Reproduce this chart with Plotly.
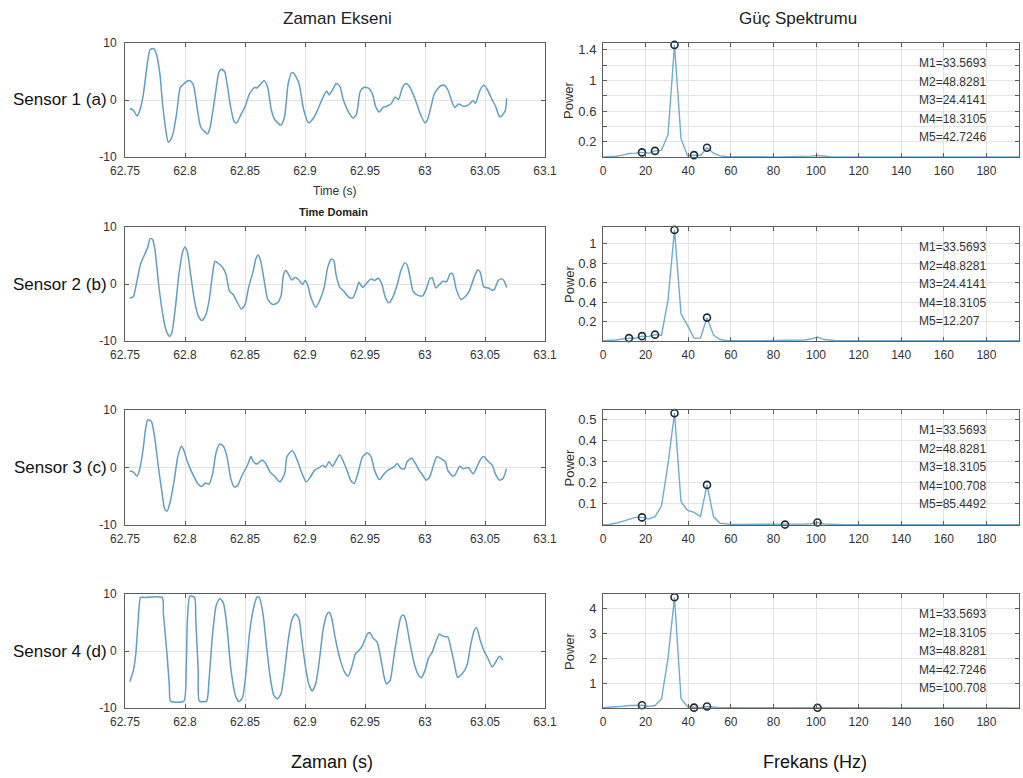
import plotly.graph_objects as go

# ---------------- DATA ----------------
# Time-domain signals (time in s, amplitude)
t1 = [62.754, 62.757, 62.760, 62.762, 62.765, 62.769, 62.771, 62.774, 62.776, 62.779, 62.781, 62.784, 62.786, 62.788,
      62.790, 62.793, 62.796, 62.798, 62.801, 62.804, 62.807, 62.810, 62.813, 62.816, 62.819, 62.821, 62.825, 62.828,
      62.830, 62.833, 62.835, 62.838, 62.841, 62.843, 62.847, 62.850, 62.854, 62.858, 62.860, 62.863, 62.866, 62.869,
      62.872, 62.875, 62.880, 62.883, 62.886, 62.889, 62.891, 62.895, 62.899, 62.903, 62.907, 62.911, 62.914, 62.918,
      62.920, 62.923, 62.926, 62.929, 62.932, 62.937, 62.940, 62.943, 62.946, 62.949, 62.953, 62.956, 62.959, 62.962,
      62.965, 62.968, 62.972, 62.975, 62.978, 62.981, 62.984, 62.987, 62.992, 62.996, 63.000, 63.002, 63.005, 63.008,
      63.013, 63.016, 63.019, 63.023, 63.025, 63.028, 63.032, 63.036, 63.040, 63.042, 63.046, 63.049, 63.052, 63.056,
      63.059, 63.062, 63.064, 63.067, 63.068]
v1 = [-1.5, -1.8, -2.8, -2.0, 0.6, 7.0, 8.9, 9.0, 8.2, 4.7, 0.0, -5.3, -7.4, -7.0,
      -5.9, -2.4, 2.2, 2.6, 3.2, 3.4, 2.6, -1.2, -4.7, -5.5, -5.9, -4.7, 0.6, 4.7,
      5.4, 5.0, 2.9, -1.2, -3.8, -4.0, -2.4, -1.2, 1.2, 2.2, 2.1, 2.8, 3.4, 2.1,
      -1.8, -3.5, -4.4, -2.9, 2.9, 4.8, 4.6, 2.9, -1.8, -4.0, -3.2, -1.5, 0.0, 1.6,
      0.9, 1.8, 2.9, 2.4, 0.0, -2.4, -3.2, -2.4, 1.5, 2.2, 2.1, 1.2, -1.2, -2.1,
      -1.3, -1.1, -0.6, 0.5, 0.1, 2.1, 2.9, 2.4, 0.0, -2.4, -4.0, -3.5, -1.2, 1.2,
      2.5, 2.6, 1.8, -0.6, -1.3, -0.7, -1.1, -0.9, -0.1, -0.6, 1.8, 2.6, 1.8, 0.0,
      -1.2, -2.9, -2.8, -1.8, 0.3]

t2 = [62.754, 62.757, 62.760, 62.763, 62.766, 62.769, 62.771, 62.773, 62.775, 62.778, 62.781, 62.784, 62.787, 62.789,
      62.792, 62.795, 62.798, 62.800, 62.802, 62.805, 62.808, 62.811, 62.814, 62.817, 62.820, 62.823, 62.825, 62.828,
      62.831, 62.834, 62.837, 62.840, 62.843, 62.847, 62.850, 62.853, 62.857, 62.859, 62.861, 62.863, 62.866, 62.869,
      62.873, 62.877, 62.880, 62.882, 62.884, 62.886, 62.889, 62.892, 62.895, 62.898, 62.900, 62.902, 62.905, 62.909,
      62.912, 62.916, 62.919, 62.922, 62.924, 62.926, 62.929, 62.932, 62.937, 62.940, 62.943, 62.945, 62.948, 62.952,
      62.955, 62.958, 62.961, 62.964, 62.967, 62.970, 62.973, 62.977, 62.980, 62.983, 62.985, 62.987, 62.990, 62.994,
      62.998, 63.001, 63.004, 63.006, 63.009, 63.012, 63.015, 63.018, 63.021, 63.023, 63.026, 63.030, 63.034, 63.037,
      63.041, 63.044, 63.046, 63.049, 63.053, 63.056, 63.058, 63.061, 63.064, 63.066, 63.068]
v2 = [-2.5, -2.2, 0.6, 3.5, 5.0, 6.5, 8.0, 7.8, 5.9, 0.0, -4.7, -8.0, -9.2, -8.6,
      -4.1, 1.8, 5.6, 6.5, 5.6, 1.2, -3.0, -5.6, -6.4, -5.6, -3.0, 1.8, 4.0, 3.6,
      3.0, 1.8, -1.2, -1.8, -3.0, -4.4, -3.6, -0.6, 2.4, 4.4, 5.1, 4.1, 0.6, -2.7,
      -3.6, -3.3, -2.1, 1.5, 2.4, 1.8, 0.7, 1.2, 0.7, -0.1, 0.6, 0.0, -2.4, -4.1,
      -3.0, -0.6, 3.0, 4.4, 4.1, 1.5, -0.6, -1.2, -2.4, -2.4, -0.9, 0.3, -0.6, 0.3,
      0.9, 0.6, 1.0, 0.0, -2.4, -3.3, -2.4, 0.0, 2.4, 3.7, 3.4, 1.8, -1.2, -2.0,
      -2.1, -0.9, 0.9, 1.1, -0.7, -0.1, 0.5, 0.4, 1.8, 1.8, -0.9, -2.7, -2.1, -1.2,
      1.2, 2.5, 2.1, -0.5, -0.7, -1.1, -0.9, 0.6, 0.9, 0.5, -0.6]

t3 = [62.754, 62.757, 62.760, 62.762, 62.765, 62.767, 62.769, 62.772, 62.775, 62.778, 62.781, 62.783, 62.785, 62.788,
      62.791, 62.794, 62.797, 62.799, 62.802, 62.805, 62.808, 62.811, 62.814, 62.817, 62.820, 62.823, 62.826, 62.829,
      62.832, 62.835, 62.838, 62.841, 62.844, 62.847, 62.852, 62.855, 62.857, 62.860, 62.864, 62.867, 62.871, 62.875,
      62.879, 62.883, 62.885, 62.889, 62.891, 62.894, 62.898, 62.901, 62.904, 62.908, 62.912, 62.915, 62.917, 62.920,
      62.923, 62.926, 62.929, 62.932, 62.935, 62.938, 62.941, 62.944, 62.948, 62.952, 62.955, 62.958, 62.962, 62.966,
      62.969, 62.974, 62.977, 62.980, 62.983, 62.985, 62.989, 62.992, 62.995, 62.998, 63.001, 63.004, 63.007, 63.010,
      63.013, 63.017, 63.019, 63.023, 63.025, 63.029, 63.032, 63.036, 63.040, 63.042, 63.046, 63.049, 63.052, 63.056,
      63.059, 63.062, 63.065, 63.068]
v3 = [-0.6, -0.8, -1.5, -0.5, 3.0, 6.5, 8.3, 8.0, 4.8, -0.2, -4.6, -7.2, -7.6, -5.7,
      -2.2, 1.9, 3.7, 3.0, 1.0, -0.5, -1.8, -2.9, -3.3, -2.7, -2.9, -1.1, 2.7, 4.1,
      3.7, 1.9, -1.8, -3.4, -3.1, -1.6, 0.4, 1.9, 1.0, 0.6, 1.3, 0.8, -0.8, -1.6,
      -2.5, -1.1, 1.9, 2.9, 2.5, 1.0, -1.3, -2.5, -1.8, -0.5, 0.0, 0.4, 0.0, 1.0,
      0.2, 1.3, 2.2, 1.0, -0.5, -2.2, -2.8, -1.1, 1.9, 2.5, 1.9, -0.5, -2.1, -1.1,
      -0.5, 0.1, 0.7, -0.2, -0.2, 1.0, 1.6, 0.7, -0.5, -1.3, -2.2, -1.6, 0.4, 1.9,
      1.6, 1.0, -0.5, -1.5, -1.3, 0.2, -0.2, 0.0, -1.1, -0.5, 1.3, 1.9, 1.2, 0.4,
      -1.3, -2.2, -1.9, -0.2]

t4 = [62.754, 62.757, 62.759, 62.761, 62.763, 62.766, 62.781, 62.782, 62.785, 62.787, 62.788, 62.799, 62.801, 62.802,
      62.804, 62.808, 62.809, 62.811, 62.812, 62.818, 62.820, 62.823, 62.826, 62.829, 62.832, 62.835, 62.838, 62.842,
      62.845, 62.848, 62.851, 62.854, 62.858, 62.860, 62.862, 62.865, 62.868, 62.871, 62.874, 62.877, 62.880, 62.883,
      62.886, 62.889, 62.892, 62.895, 62.897, 62.900, 62.903, 62.906, 62.909, 62.912, 62.915, 62.918, 62.920, 62.922,
      62.925, 62.929, 62.933, 62.936, 62.939, 62.942, 62.945, 62.948, 62.952, 62.954, 62.957, 62.960, 62.963, 62.966,
      62.968, 62.971, 62.974, 62.977, 62.980, 62.982, 62.984, 62.987, 62.991, 62.994, 62.997, 63.000, 63.003, 63.006,
      63.009, 63.012, 63.014, 63.017, 63.019, 63.022, 63.025, 63.027, 63.031, 63.035, 63.038, 63.041, 63.043, 63.046,
      63.049, 63.052, 63.056, 63.059, 63.062, 63.065]
v4 = [-5.4, -3.4, -0.5, 5.4, 9.4, 9.4, 9.4, 6.5, -0.5, -6.3, -8.8, -8.8, -3.4, 5.4,
      9.6, 9.4, 5.4, -3.4, -8.8, -8.8, -5.1, 3.0, 8.0, 9.2, 8.4, 4.2, -2.8, -7.8,
      -8.9, -8.1, -3.4, 3.6, 8.3, 9.5, 9.4, 6.5, 0.7, -4.6, -7.8, -8.4, -7.5, -3.4,
      1.9, 5.4, 6.5, 5.7, 2.5, -2.2, -5.7, -7.0, -5.7, -1.6, 3.6, 6.3, 6.8, 6.0,
      2.5, -1.3, -3.7, -4.4, -2.8, -0.5, 0.1, 1.0, 3.0, 3.2, 2.2, 1.6, -1.1, -4.6,
      -5.8, -5.1, -1.1, 3.0, 6.0, 6.3, 5.4, 1.9, -2.2, -4.0, -4.7, -3.4, -1.2, -0.2,
      1.6, 3.0, 2.7, 2.5, 2.5, 0.1, -2.8, -4.6, -4.0, -2.5, 1.0, 3.6, 4.1, 1.9,
      0.1, -1.1, -2.8, -1.9, -0.9, -1.6]

# Frequency bins (Hz) of the power spectra
freq = [0.0, 3.0518, 6.1035, 9.1553, 12.207, 15.2588, 18.3105, 21.3623, 24.4141, 27.4658, 30.5176, 33.5693,
        36.6211, 39.6729, 42.7246, 45.7764, 48.8281, 51.8799, 54.9316, 57.9834, 61.0352, 64.0869, 67.1387,
        70.1904, 73.2422, 76.2939, 79.3457, 82.3975, 85.4492, 88.501, 91.5527, 94.6045, 97.6563, 100.708,
        103.7598, 106.8115, 109.8633, 112.915, 115.9668, 119.0186, 122.0703, 125.1221, 128.1738, 131.2256,
        134.2773, 137.3291, 140.3809, 143.4326, 146.4844, 149.5361, 152.5879, 155.6396, 158.6914, 161.7432,
        164.7949, 167.8467, 170.8984, 173.9502, 177.002, 180.0537, 183.1055, 186.1572, 189.209, 192.2607, 195.3125]

p1 = [0.0, 0.005, 0.01, 0.025, 0.045, 0.05, 0.06, 0.05, 0.08, 0.09, 0.29, 1.465,
      0.24, 0.015, 0.025, 0.02, 0.12, 0.05, 0.015, 0.006, 0.004, 0.003, 0.003,
      0.002, 0.002, 0.002, 0.002, 0.002, 0.003, 0.004, 0.006, 0.008, 0.012, 0.02,
      0.01, 0.004, 0.002, 0.002, 0.002, 0.002, 0.002, 0.002, 0.002, 0.002,
      0.002, 0.002, 0.002, 0.002, 0.002, 0.002, 0.002, 0.002, 0.002, 0.002,
      0.002, 0.002, 0.002, 0.002, 0.002, 0.002, 0.002, 0.002, 0.002, 0.002, 0.002]
p2 = [0.002, 0.005, 0.01, 0.02, 0.03, 0.028, 0.05, 0.045, 0.065, 0.06, 0.42, 1.14,
      0.28, 0.16, 0.03, 0.03, 0.24, 0.06, 0.015, 0.005, 0.003, 0.003, 0.003,
      0.003, 0.003, 0.003, 0.003, 0.003, 0.003, 0.004, 0.006, 0.01, 0.02, 0.04,
      0.015, 0.005, 0.002, 0.002, 0.002, 0.002, 0.002, 0.002, 0.002, 0.002,
      0.002, 0.002, 0.002, 0.002, 0.002, 0.002, 0.002, 0.002, 0.002, 0.002,
      0.002, 0.002, 0.002, 0.002, 0.002, 0.002, 0.002, 0.002, 0.002, 0.002, 0.002]
p3 = [0.002, 0.003, 0.008, 0.018, 0.028, 0.036, 0.036, 0.028, 0.04, 0.09, 0.29, 0.53,
      0.11, 0.07, 0.06, 0.04, 0.19, 0.04, 0.008, 0.004, 0.003, 0.003, 0.003,
      0.002, 0.002, 0.002, 0.002, 0.001, 0.002, 0.001, 0.003, 0.004, 0.006, 0.012,
      0.005, 0.003, 0.002, 0.002, 0.002, 0.002, 0.002, 0.002, 0.002, 0.002,
      0.002, 0.002, 0.002, 0.002, 0.002, 0.002, 0.002, 0.002, 0.002, 0.002,
      0.002, 0.002, 0.002, 0.002, 0.002, 0.002, 0.002, 0.002, 0.002, 0.002, 0.002]
p4 = [0.01, 0.02, 0.04, 0.07, 0.1, 0.1, 0.11, 0.06, 0.1, 0.36, 2.0, 4.47,
      0.38, 0.05, 0.015, 0.01, 0.06, 0.02, 0.01, 0.008, 0.008, 0.008, 0.008,
      0.007, 0.007, 0.007, 0.007, 0.007, 0.007, 0.007, 0.007, 0.007, 0.007, 0.01,
      0.006, 0.005, 0.005, 0.005, 0.005, 0.005, 0.005, 0.005, 0.005, 0.005,
      0.005, 0.005, 0.005, 0.005, 0.005, 0.005, 0.005, 0.005, 0.005, 0.005,
      0.005, 0.005, 0.005, 0.005, 0.005, 0.005, 0.005, 0.005, 0.005, 0.005, 0.005]

# Marked peaks (labels exactly as printed)
marks1 = ["33.5693", "48.8281", "24.4141", "18.3105", "42.7246"]
marks2 = ["33.5693", "48.8281", "24.4141", "18.3105", "12.207"]
marks3 = ["33.5693", "48.8281", "18.3105", "100.708", "85.4492"]
marks4 = ["33.5693", "18.3105", "48.8281", "42.7246", "100.708"]

sensor_labels = ["Sensor 1 (a)", "Sensor 2 (b)", "Sensor 3 (c)", "Sensor 4 (d)"]
time_ticks = [62.75, 62.8, 62.85, 62.9, 62.95, 63.0, 63.05, 63.1]
time_ticktext = ["62.75", "62.8", "62.85", "62.9", "62.95", "63", "63.05", "63.1"]
freq_ticks = [0, 20, 40, 60, 80, 100, 120, 140, 160, 180]
power_ticks = [
    ([0.2, 0.4, 0.6, 0.8, 1.0, 1.2, 1.4], ["0.2", "", "0.6", "", "1", "", "1.4"], [0, 1.49]),
    ([0.2, 0.4, 0.6, 0.8, 1.0], ["0.2", "0.4", "0.6", "0.8", "1"], [0, 1.17]),
    ([0.1, 0.2, 0.3, 0.4, 0.5], ["0.1", "0.2", "0.3", "0.4", "0.5"], [0, 0.545]),
    ([1, 2, 3, 4], ["1", "2", "3", "4"], [0, 4.6]),
]

# ---------------- FIGURE ----------------
W, H = 1023, 778
def fx(p):
    return p / W
def fy(p):
    return 1 - p / H

rows_px = [(43, 157), (227, 341), (410, 525), (594, 708)]
time_x_px = (125, 545)
spec_x_px = (603, 1019)

LINE_T = "#619fc2"
LINE_S = "#6eaed0"
FRAME = "#5c5c5c"
GRID = "#e4e4e4"
TICKFONT = dict(family="Liberation Sans, Arial, sans-serif", size=12, color="#333333")

times = [(t1, v1), (t2, v2), (t3, v3), (t4, v4)]
powers = [p1, p2, p3, p4]
marks = [marks1, marks2, marks3, marks4]

fig = go.Figure()
layout = dict(
    width=W, height=H, margin=dict(l=0, r=0, t=0, b=0, pad=0, autoexpand=False),
    paper_bgcolor="white", plot_bgcolor="white", showlegend=False,
    font=dict(family="Liberation Sans, Arial, sans-serif", color="#222222"),
)

def axis_common():
    return dict(showline=True, linecolor=FRAME, linewidth=1, mirror="ticks",
                ticks="inside", ticklen=4, tickcolor=FRAME, tickwidth=1,
                showgrid=True, gridcolor=GRID, gridwidth=1, zeroline=False,
                tickfont=TICKFONT, fixedrange=True, automargin=False)

annotations = []
for i in range(4):
    top, bot = rows_px[i]
    ydom = [fy(bot), fy(top)]
    ax_t = 2 * i + 1
    ax_s = 2 * i + 2
    xt = dict(axis_common(), domain=[fx(time_x_px[0]), fx(time_x_px[1])], range=[62.75, 63.1],
              tickvals=time_ticks, ticktext=time_ticktext, anchor=f"y{ax_t}", ticklabelstandoff=3)
    yt = dict(axis_common(), domain=ydom, range=[-10, 10], tickvals=[-10, 0, 10],
              ticktext=["-10", "0", "10"], anchor=f"x{ax_t}", ticklabelstandoff=5)
    tv, tt, rng = power_ticks[i]
    xs = dict(axis_common(), domain=[fx(spec_x_px[0]), fx(spec_x_px[1])], range=[0, 195.3],
              tickvals=freq_ticks, anchor=f"y{ax_s}", ticklabelstandoff=3)
    ys = dict(axis_common(), domain=ydom, range=rng, tickvals=tv, ticktext=tt, anchor=f"x{ax_s}",
              ticklabelstandoff=3, tickfont=dict(TICKFONT, size=13))
    layout[f"xaxis{ax_t}"] = xt
    layout[f"yaxis{ax_t}"] = yt
    layout[f"xaxis{ax_s}"] = xs
    layout[f"yaxis{ax_s}"] = ys

    t, v = times[i]
    fig.add_trace(go.Scatter(x=t, y=v, mode="lines", line=dict(color=LINE_T, width=1.5, shape="spline", smoothing=0.6),
                             xaxis=f"x{ax_t}", yaxis=f"y{ax_t}", hoverinfo="skip"))
    p = powers[i]
    fig.add_trace(go.Scatter(x=freq, y=p, mode="lines", line=dict(color=LINE_S, width=1.4),
                             xaxis=f"x{ax_s}", yaxis=f"y{ax_s}", hoverinfo="skip"))
    mf = [float(m) for m in marks[i]]
    mp = [p[min(range(len(freq)), key=lambda k: abs(freq[k] - f))] for f in mf]
    fig.add_trace(go.Scatter(x=mf, y=mp, mode="markers", cliponaxis=False,
                             marker=dict(symbol="circle-open", size=7, color="#1d2c38", line=dict(width=1.6)),
                             xaxis=f"x{ax_s}", yaxis=f"y{ax_s}", hoverinfo="skip"))

    annotations.append(dict(text=sensor_labels[i], x=fx(109), y=fy((top + bot) / 2), xref="paper", yref="paper",
                            xanchor="right", yanchor="middle", showarrow=False,
                            font=dict(size=17, color="#111111")))
    annotations.append(dict(text="Power", x=fx(569), y=fy((top + bot) / 2), xref="paper", yref="paper",
                            xanchor="center", yanchor="middle", textangle=-90, showarrow=False,
                            font=dict(size=13, color="#333333")))
    for j, m in enumerate(marks[i]):
        annotations.append(dict(text=f"M{j + 1}={m}", x=fx(917), y=fy(top + 20 + j * 18.6), xref="paper",
                                yref="paper", xanchor="left", yanchor="middle", showarrow=False,
                                font=dict(size=12, color="#333333")))

annotations += [
    dict(text="Zaman Ekseni", x=fx(337), y=fy(18), xref="paper", yref="paper", showarrow=False,
         xanchor="center", yanchor="middle", font=dict(size=17, color="#222222")),
    dict(text="Güç Spektrumu", x=fx(798), y=fy(18), xref="paper", yref="paper", showarrow=False,
         xanchor="center", yanchor="middle", font=dict(size=17, color="#222222")),
    dict(text="Time (s)", x=fx(335), y=fy(191), xref="paper", yref="paper", showarrow=False,
         xanchor="center", yanchor="middle", font=dict(size=12, color="#333333")),
    dict(text="<b>Time Domain</b>", x=fx(333), y=fy(212), xref="paper", yref="paper", showarrow=False,
         xanchor="center", yanchor="middle", font=dict(size=11, color="#222222")),
    dict(text="Zaman (s)", x=fx(332), y=fy(762), xref="paper", yref="paper", showarrow=False,
         xanchor="center", yanchor="middle", font=dict(size=18, color="#111111")),
    dict(text="Frekans (Hz)", x=fx(815), y=fy(762), xref="paper", yref="paper", showarrow=False,
         xanchor="center", yanchor="middle", font=dict(size=18, color="#111111")),
]
layout["annotations"] = annotations
fig.update_layout(**layout)
fig.write_html("out.html")
